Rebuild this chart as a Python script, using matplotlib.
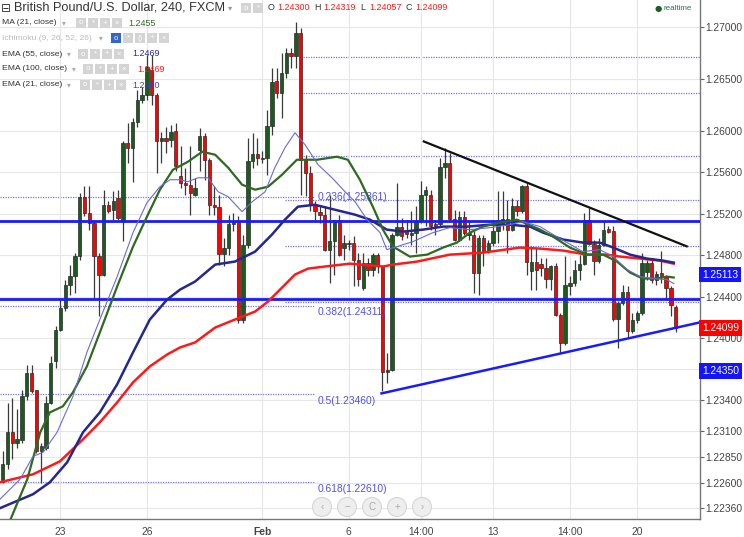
import matplotlib
matplotlib.use('Agg')
import matplotlib.pyplot as plt
import matplotlib.patches as mpatches
import matplotlib.transforms as mtransforms

plt.rcParams['font.family'] = ['Liberation Sans', 'DejaVu Sans']

# 4h candles, index 0 = Jan 23 00:00
idx = list(range(-12, 129))
opens = [1.22612, 1.22782, 1.23093, 1.22990, 1.23022, 1.23440, 1.23665, 1.23495, 1.22910, 1.22942, 1.23376, 1.23777,
         1.24082, 1.24291, 1.24515, 1.24595, 1.24788, 1.25359, 1.25205, 1.25109, 1.24788, 1.24612, 1.25286, 1.25237,
         1.25350, 1.25141, 1.25886, 1.25831, 1.26088, 1.26297, 1.26345, 1.26586, 1.26345, 1.25896, 1.25928, 1.25912,
         1.25993, 1.25559, 1.25495, 1.25479, 1.25383, 1.25816, 1.25944, 1.25720, 1.25286, 1.25261, 1.24811, 1.24869,
         1.25100, 1.25132, 1.24179, 1.24901, 1.25704, 1.25774, 1.25736, 1.25736, 1.26041, 1.26480, 1.26362, 1.26554,
         1.26747, 1.26721, 1.26939, 1.25720, 1.25591, 1.25286, 1.25216, 1.25190, 1.24853, 1.24933, 1.25135, 1.24869,
         1.24921, 1.24918, 1.24757, 1.24484, 1.24725, 1.24661, 1.24805, 1.24693, 1.23672, 1.23691, 1.24998, 1.25068,
         1.25030, 1.24998, 1.25014, 1.25126, 1.25383, 1.25383, 1.25101, 1.25101, 1.25649, 1.25688, 1.25149, 1.24950,
         1.25168, 1.24998, 1.24998, 1.24629, 1.24966, 1.24837, 1.24918, 1.25030, 1.25110, 1.25149, 1.25046, 1.25277,
         1.25223, 1.25463, 1.24644, 1.24731, 1.24718, 1.24676, 1.24570, 1.24699, 1.24227, 1.23954, 1.24506, 1.24532,
         1.24660, 1.24718, 1.25142, 1.24911, 1.24741, 1.24901, 1.25052, 1.25030, 1.24185, 1.24339, 1.24442, 1.24066,
         1.24179, 1.24243, 1.24635, 1.24724, 1.24564, 1.24628, 1.24596, 1.24484, 1.24300]
highs = [1.22910, 1.23376, 1.23424, 1.23312, 1.23504, 1.23745, 1.23745, 1.23504, 1.22990, 1.23440, 1.23825, 1.24114,
         1.24387, 1.24563, 1.24708, 1.24820, 1.25398, 1.25462, 1.25462, 1.25141, 1.24820, 1.25430, 1.25318, 1.25414,
         1.25430, 1.25896, 1.26072, 1.26120, 1.26393, 1.26425, 1.26731, 1.26731, 1.26361, 1.25992, 1.26040, 1.26056,
         1.26073, 1.25848, 1.25639, 1.25848, 1.25543, 1.26025, 1.25976, 1.25736, 1.25463, 1.25383, 1.24965, 1.25190,
         1.25206, 1.25174, 1.24997, 1.25928, 1.25976, 1.25928, 1.25800, 1.26201, 1.26602, 1.26602, 1.26747, 1.26795,
         1.26795, 1.27052, 1.26988, 1.25768, 1.25655, 1.25318, 1.25286, 1.25270, 1.25383, 1.25142, 1.25190, 1.24997,
         1.24950, 1.24982, 1.24821, 1.24821, 1.24773, 1.24821, 1.24821, 1.24709, 1.23858, 1.25014, 1.25495, 1.25158,
         1.25142, 1.25223, 1.25271, 1.25511, 1.25463, 1.25431, 1.25142, 1.25736, 1.25832, 1.25784, 1.25239, 1.25223,
         1.25223, 1.25142, 1.25030, 1.24998, 1.24998, 1.24950, 1.25142, 1.25415, 1.25415, 1.25335, 1.25351, 1.25335,
         1.25479, 1.25495, 1.24885, 1.24869, 1.24773, 1.24773, 1.24708, 1.24724, 1.24243, 1.24789, 1.24596, 1.24757,
         1.24805, 1.25206, 1.25254, 1.24949, 1.24965, 1.25126, 1.25078, 1.25078, 1.24355, 1.24516, 1.24500, 1.24243,
         1.24259, 1.24821, 1.24757, 1.24757, 1.24644, 1.24837, 1.24612, 1.24500, 1.24319]
lows = [1.22605, 1.22734, 1.22830, 1.22942, 1.22990, 1.23408, 1.23472, 1.22895, 1.22605, 1.22926, 1.23360, 1.23713,
        1.24066, 1.24258, 1.24419, 1.24435, 1.24756, 1.25173, 1.25045, 1.24387, 1.24210, 1.24595, 1.25205, 1.25141,
        1.25141, 1.24933, 1.25687, 1.25510, 1.26040, 1.26265, 1.26297, 1.26249, 1.25591, 1.25687, 1.25783, 1.25847,
        1.25607, 1.25447, 1.25383, 1.25190, 1.25367, 1.25607, 1.25527, 1.25190, 1.25190, 1.24708, 1.24692, 1.24805,
        1.25029, 1.24147, 1.24147, 1.24869, 1.25639, 1.25671, 1.25688, 1.25575, 1.25960, 1.26313, 1.26121, 1.26506,
        1.26609, 1.26602, 1.25383, 1.25367, 1.25222, 1.25126, 1.25110, 1.24837, 1.24532, 1.24612, 1.24790, 1.24757,
        1.24853, 1.24500, 1.24500, 1.24468, 1.24597, 1.24597, 1.24629, 1.23489, 1.23570, 1.23682, 1.24982, 1.24950,
        1.24966, 1.24902, 1.24821, 1.25110, 1.25078, 1.25046, 1.24998, 1.25078, 1.25544, 1.25126, 1.24934, 1.24934,
        1.24998, 1.24950, 1.24436, 1.24420, 1.24693, 1.24821, 1.24886, 1.24918, 1.25046, 1.24821, 1.25030, 1.25174,
        1.25207, 1.24613, 1.24468, 1.24468, 1.24596, 1.24484, 1.24468, 1.24211, 1.23858, 1.23938, 1.24420, 1.24500,
        1.24564, 1.24708, 1.24901, 1.24612, 1.24724, 1.24885, 1.25014, 1.24163, 1.23906, 1.24323, 1.24002, 1.24050,
        1.24147, 1.24227, 1.24564, 1.24532, 1.24516, 1.24532, 1.24371, 1.24211, 1.24057]
closes = [1.22782, 1.23093, 1.22990, 1.23029, 1.23440, 1.23665, 1.23488, 1.22910, 1.22958, 1.23376, 1.23761, 1.24082,
          1.24291, 1.24515, 1.24595, 1.24788, 1.25359, 1.25205, 1.25109, 1.24788, 1.24612, 1.25286, 1.25221, 1.25318,
          1.25157, 1.25886, 1.25831, 1.26088, 1.26297, 1.26345, 1.26618, 1.26345, 1.25896, 1.25928, 1.25896, 1.25992,
          1.25655, 1.25495, 1.25479, 1.25399, 1.25447, 1.25944, 1.25720, 1.25286, 1.25261, 1.24811, 1.24869, 1.25100,
          1.25132, 1.24179, 1.24901, 1.25704, 1.25774, 1.25736, 1.25726, 1.26041, 1.26474, 1.26362, 1.26554, 1.26747,
          1.26721, 1.26939, 1.25720, 1.25591, 1.25286, 1.25222, 1.25190, 1.24853, 1.24933, 1.25135, 1.24805, 1.24917,
          1.24911, 1.24757, 1.24571, 1.24725, 1.24661, 1.24805, 1.24693, 1.23672, 1.23691, 1.24998, 1.25068, 1.24982,
          1.25007, 1.25014, 1.25126, 1.25383, 1.25431, 1.25078, 1.25078, 1.25649, 1.25688, 1.25149, 1.24950, 1.25168,
          1.25014, 1.25014, 1.24629, 1.24966, 1.24837, 1.24918, 1.25030, 1.25126, 1.25149, 1.25046, 1.25277, 1.25223,
          1.25463, 1.24731, 1.24731, 1.24660, 1.24676, 1.24570, 1.24699, 1.24227, 1.23954, 1.24516, 1.24532, 1.24660,
          1.24718, 1.25142, 1.24911, 1.24741, 1.24901, 1.25046, 1.25020, 1.24185, 1.24339, 1.24442, 1.24066, 1.24179,
          1.24243, 1.24724, 1.24724, 1.24564, 1.24619, 1.24596, 1.24484, 1.24323, 1.24099]

# indicator lines (x in candle index units)
ma21_x = [-10.4, -6.9, -4.2, -2.2, 0.5, 2.6, 5.5, 8.2, 11.8, 15.1, 18.0, 20.7, 23.4, 26.5, 29.5, 32.2, 34.9, 37.8,
          40.5, 43.2, 46.1, 49.2, 53.4, 57.5, 59.8, 62.3, 65.0, 67.1, 69.2, 72.7, 76.3, 79.6, 82.5, 85.2, 87.9, 91.4,
          95.0, 99.8, 102.5, 106.0, 109.5, 112.9, 115.8, 118.5, 121.2, 124.1, 126.2, 127.6]
ma21_y = [1.22250, 1.22639, 1.23092, 1.23284, 1.23342, 1.23477, 1.23727, 1.24054, 1.24497, 1.24882, 1.25171, 1.25431,
          1.25623, 1.25700, 1.25797, 1.25768, 1.25643, 1.25479, 1.25431, 1.25460, 1.25575, 1.25720, 1.25720, 1.25749,
          1.25720, 1.25527, 1.25267, 1.25046, 1.24882, 1.24786, 1.24805, 1.24873, 1.24921, 1.25017, 1.25075, 1.25113,
          1.25142, 1.25046, 1.24978, 1.24873, 1.24805, 1.24805, 1.24738, 1.24632, 1.24574, 1.24574, 1.24593, 1.24584]
ema21_x = [-12.6, -8.4, -5.7, -3.6, -0.7, 2.6, 5.5, 8.2, 11.8, 15.1, 18.0, 20.7, 22.8, 24.9, 26.5, 28.6, 30.7, 32.8,
           34.9, 37.8, 39.9, 42.6, 44.6, 46.7, 48.8, 50.9, 53.6, 56.5, 59.2, 61.3, 63.8, 66.5, 67.9, 70.0, 73.3, 77.5,
           81.0, 85.2, 89.4, 93.5, 96.2, 99.8, 102.5, 105.4, 108.7, 112.2, 115.0, 117.9, 120.6, 123.3, 126.2, 127.6]
ema21_y = [1.22446, 1.22639, 1.22860, 1.22899, 1.23092, 1.23438, 1.23862, 1.24179, 1.24593, 1.25017, 1.25306, 1.25460,
           1.25527, 1.25527, 1.25508, 1.25546, 1.25546, 1.25412, 1.25363, 1.25219, 1.25315, 1.25412, 1.25643, 1.25835,
           1.25980, 1.25864, 1.25672, 1.25546, 1.25412, 1.25315, 1.25142, 1.25017, 1.24853, 1.24882, 1.24930, 1.25017,
           1.25065, 1.25046, 1.25065, 1.25094, 1.25123, 1.25075, 1.24998, 1.24921, 1.24834, 1.24853, 1.24786, 1.24661,
           1.24593, 1.24574, 1.24564, 1.24526]
ema55_x = [-12.6, -5.7, -2.2, 1.4, 4.7, 8.2, 11.8, 15.1, 18.6, 22.2, 24.9, 28.0, 32.2, 36.3, 40.5, 44.0, 46.7, 49.4,
           52.9, 57.1, 61.3, 64.4, 67.9, 71.3, 75.4, 79.6, 84.6, 89.4, 93.5, 97.7, 100.4, 104.6, 108.7, 112.2, 115.0,
           118.5, 122.0, 125.4, 127.6]
ema55_y = [1.22360, 1.22495, 1.22610, 1.22803, 1.23092, 1.23284, 1.23554, 1.23862, 1.24179, 1.24372, 1.24468, 1.24545,
           1.24709, 1.24738, 1.24834, 1.24998, 1.25142, 1.25267, 1.25286, 1.25238, 1.25190, 1.25142, 1.25046, 1.25027,
           1.25046, 1.25075, 1.25075, 1.25094, 1.25094, 1.25075, 1.25017, 1.24950, 1.24921, 1.24921, 1.24873, 1.24805,
           1.24767, 1.24747, 1.24728]
ema100_x = [-12.6, -5.7, -0.1, 4.7, 8.2, 11.8, 15.1, 18.6, 22.2, 24.9, 28.0, 32.2, 36.3, 40.5, 43.2, 46.1, 48.8, 51.5,
            55.0, 60.2, 67.1, 69.2, 74.2, 81.0, 87.9, 95.6, 99.8, 104.6, 109.5, 113.7, 116.4, 120.6, 124.7, 127.6]
ema100_y = [1.22610, 1.22687, 1.22812, 1.23024, 1.23188, 1.23380, 1.23573, 1.23727, 1.23842, 1.23910, 1.23958, 1.24102,
            1.24179, 1.24256, 1.24353, 1.24487, 1.24613, 1.24670, 1.24690, 1.24718, 1.24690, 1.24709, 1.24738, 1.24805,
            1.24824, 1.24873, 1.24863, 1.24844, 1.24805, 1.24805, 1.24786, 1.24767, 1.24747, 1.24718]

# drawings
hlines_solid = [1.25130, 1.24380]
fib_levels = [1.25361, 1.24311, 1.23460, 1.22610]
fib_names = ['0.236', '0.382', '0.5', '0.618']
fib_end = 53.0
extra_levels = [1.26711, 1.26365, 1.25758, 1.25335, 1.24892, 1.24353]
extra_start = [50.5, 50.5, 50.5, 46.7, 46.7, 46.7]
down_x = [75.6, 130.3]
down_y = [1.25896, 1.24885]
up_x = [66.8, 133.0]
up_y = [1.23467, 1.24151]

yticks = [1.27, 1.265, 1.26, 1.256, 1.252, 1.248, 1.244, 1.24, 1.237, 1.234, 1.231, 1.2285, 1.226, 1.2236]
xticks = [0, 18, 42, 60, 75, 90, 106, 120]
xlabels = ['23', '26', 'Feb', '6', '14:00', '13', '14:00', '20']

W, H = 744, 537
fig = plt.figure(figsize=(W / 100, H / 100), dpi=100)
ax = fig.add_axes([0, 18 / H, 700 / W, 519 / H])
ax.set_xlim(-12.57, 133.06)
ax.set_ylim(1.22256, 1.27260)

ax.set_yticks(yticks)
ax.set_yticklabels(['%.5f' % v for v in yticks])
ax.yaxis.tick_right()
ax.set_xticks(xticks)
ax.set_xticklabels(xlabels)
for lab in ax.get_xticklabels():
    if lab.get_text() == 'Feb':
        lab.set_fontweight('bold')
ax.tick_params(axis='y', colors='#666666', labelcolor='#444444', labelsize=7.4, length=3, pad=1)
ax.tick_params(axis='x', colors='#666666', labelcolor='#444444', labelsize=7.4, length=0, pad=6)
ax.grid(True, color='#e6e6e6', lw=0.8, zorder=0)
for s in ['top', 'left']:
    ax.spines[s].set_visible(False)
for s in ['right', 'bottom']:
    ax.spines[s].set_color('#777777')
    ax.spines[s].set_linewidth(1.0)

# fib / level lines
x0, x1 = ax.get_xlim()
for lv, nm in zip(fib_levels, fib_names):
    ax.plot([x0, fib_end], [lv, lv], color='#7474f2', lw=0.9, ls=(0, (1, 1)), zorder=1)
    dy = 0 if nm == '0.236' else -0.00062
    ax.text(fib_end + 0.6, lv + dy, '%s(%.5f)' % (nm, lv), color='#5050ee', fontsize=7.4, va='center', ha='left',
            zorder=6)
for lv, st in zip(extra_levels, extra_start):
    ax.plot([st, x1], [lv, lv], color='#7474f2', lw=0.9, ls=(0, (1, 1)), zorder=1)
for lv in hlines_solid:
    ax.axhline(lv, color='#1a1aff', lw=2.0, zorder=5)

# candles
up = [c >= o for o, c in zip(opens, closes)]
cols = ['#1d5a1d' if u else '#ff0000' for u in up]
bottoms = [min(o, c) for o, c in zip(opens, closes)]
heights = [max(abs(c - o), 0.00004) for o, c in zip(opens, closes)]
ax.vlines(idx, lows, highs, color='#3a3a3a', lw=0.9, zorder=3)
ax.bar(idx, heights, bottom=bottoms, width=0.7, color=cols, edgecolor='#2a2a2a', linewidth=0.5, zorder=4)

# indicators
ax.plot(ema100_x, ema100_y, color='#ff1a1a', lw=1.8, zorder=7)
ax.plot(ema55_x, ema55_y, color='#26268f', lw=1.8, zorder=7)
ax.plot(ma21_x, ma21_y, color='#2e6a1f', lw=1.6, zorder=7)
ax.plot(ema21_x, ema21_y, color='#6a6ad6', lw=0.8, zorder=7)

# trend lines
ax.plot(down_x, down_y, color='#111111', lw=1.6, zorder=8, clip_on=True)
ax.plot(up_x, up_y, color='#1a1aff', lw=1.8, zorder=8, clip_on=True)

# price boxes on the axis (they cover the tick label behind them, as in the original)
bt = mtransforms.blended_transform_factory(ax.transAxes, ax.transData)
for txt, yy, fc in [('1.25113', 1.24613, '#1414ff'), ('1.24099', 1.24099, '#ff0000'), ('1.24350', 1.23685, '#1414ff')]:
    ax.text(1.003, yy, txt, transform=bt, color='white', fontsize=7.4, va='center', ha='left', zorder=10,
            bbox=dict(boxstyle='square,pad=0.28', fc=fc, ec='none'), clip_on=False)


def ftxt(x, y, s, **kw):
    kw.setdefault('va', 'center')
    kw.setdefault('ha', 'left')
    fig.text(x / W, 1 - y / H, s, **kw)


def icon(x, y, fc='#d4d4d4', glyph=''):
    r = mpatches.Rectangle((x / W, 1 - (y + 5) / H), 10 / W, 10 / H, transform=fig.transFigure,
                           fc=fc, ec='none', zorder=20)
    fig.patches.append(r)
    if glyph:
        ftxt(x + 5, y, glyph, color='white', fontsize=5.5, ha='center', zorder=21)


dark = '#333333'
ftxt(1, 8, '\u229f', color=dark, fontsize=8.5, family='DejaVu Sans')
ftxt(14, 8, 'British Pound/U.S. Dollar, 240, FXCM', color=dark, fontsize=9.2)
ftxt(228, 8, '\u25be', color='#999999', fontsize=6, family='DejaVu Sans')
icon(241, 8, glyph='o')
icon(253, 8, glyph='*')
x = 268
for key, val in [('O', '1.24300'), ('H', '1.24319'), ('L', '1.24057'), ('C', '1.24099')]:
    ftxt(x, 8, key, color=dark, fontsize=6.4)
    ftxt(x + 9, 8, val, color='#ff1a1a', fontsize=6.4)
    x += 46

rows = [
    (23, 'MA (21, close)', 62, 76, 4, '1.2455', 128, '#2e6a1f', dark),
    (38, 'Ichimoku (9, 26, 52, 26)', 99, 111, 5, '', 0, '', '#bbbbbb'),
    (54, 'EMA (55, close)', 67, 78, 4, '1.2469', 132, '#26268f', dark),
    (69, 'EMA (100, close)', 72, 83, 4, '1.2469', 137, '#ff1a1a', dark),
    (85, 'EMA (21, close)', 67, 80, 4, '1.2460', 132, '#3c3cb4', dark),
]
glyphs = ['o', '*', '+', '\u00d7']
glyphs5 = ['o', '*', '()', '+', '\u00d7']
for yy, name, xa, xi, n, val, xv, vc, nc in rows:
    ftxt(2, yy, name, color=nc, fontsize=6.1)
    ftxt(xa, yy, '\u25be', color='#aaaaaa', fontsize=5.5, family='DejaVu Sans')
    for k in range(n):
        g = glyphs5[k] if n == 5 else glyphs[k]
        icon(xi + 12 * k, yy, fc='#3366cc' if (n == 5 and k == 0) else '#d4d4d4', glyph=g)
    if val:
        ftxt(xv, yy, val, color=vc, fontsize=6.4)

ftxt(655, 8, '\u25cf', color='#1b5e20', fontsize=6, family='DejaVu Sans')
ftxt(663, 8, 'realtime', color='#2a6f5f', fontsize=5.8)

# zoom buttons
for cx, g in zip([322, 347, 372, 397, 422], ['\u2039', '\u2212', 'C', '+', '\u203a']):
    c = mpatches.Circle((cx / 100, (H - 507) / 100), 0.095, transform=fig.dpi_scale_trans,
                        fc='#eeeeee', ec='#d6d6d6', lw=0.8, zorder=20)
    fig.patches.append(c)
    ftxt(cx, 507, g, color='#aaaaaa', fontsize=7, ha='center', zorder=21)

fig.savefig('out.png', dpi=100)
